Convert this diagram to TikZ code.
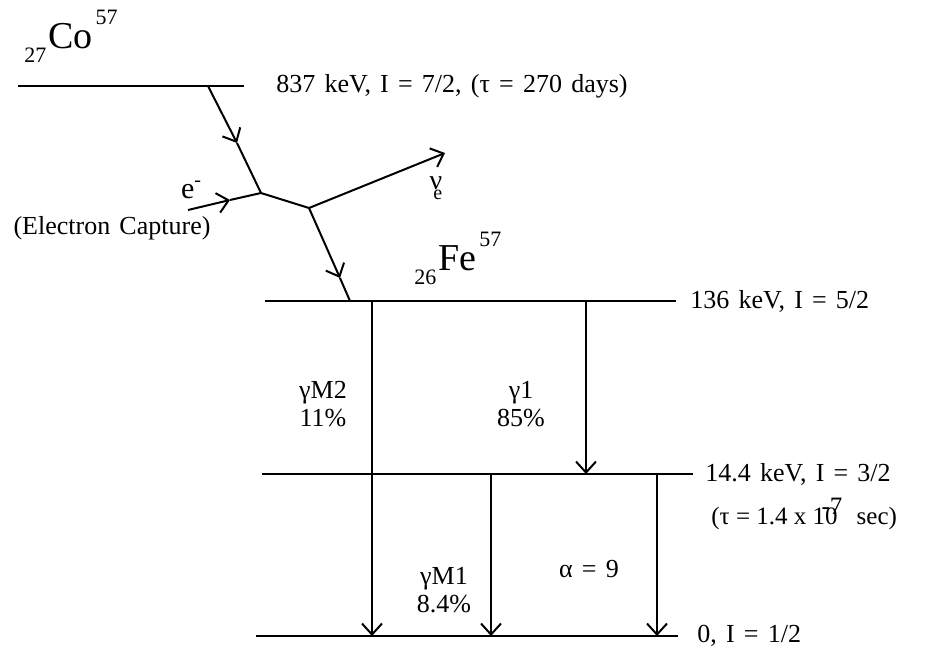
\documentclass[tikz,border=0pt]{standalone}
\usepackage{fontspec}
\setmainfont{Liberation Serif}
\usetikzlibrary{arrows.meta,positioning}

\newcommand\nucl[3]{\raisebox{-7pt}{\fontsize{11}{11}\selectfont #1}\hspace{1pt}#2\hspace{1.5pt}\raisebox{12pt}{\fontsize{11}{11}\selectfont #3}}
\newcommand\widesp{\spaceskip=4.6pt plus 1pt\relax}

\begin{document}
\begin{tikzpicture}[x=0.5pt,y=-0.5pt,
  level/.style={line width=1.4pt},
  edge/.style={line width=1pt},
  trans/.style={line width=1pt, -{Straight Barb[length=5.5pt,width=10pt,line width=1pt]}},
  lvl/.style={anchor=west, inner sep=0pt, font=\fontsize{13}{15}\selectfont\widesp},
  lbl/.style={align=center, inner sep=0pt, font=\fontsize{13}{14}\selectfont\widesp},
  iso/.style={anchor=base west, inner sep=0pt, font=\fontsize{19}{20}\selectfont}
]
\useasboundingbox (0,0) rectangle (943,654);

% Co57 level
\coordinate (co-l) at (18,86);
\coordinate (co-r) at (244,86);
\draw[level] (co-l) -- (co-r);
\node[iso] (co) at (24,48) {\nucl{27}{Co}{57}};
\node[lvl, right=16pt of co-r] (co-txt) {837 keV, I = 7/2, (τ = 270 days)};

% electron capture
\coordinate (d0) at (208,86);
\coordinate (m1) at (237,143);
\coordinate (v1) at (261,193);
\coordinate (v2) at (309,208);
\coordinate (m2) at (340,278);
\coordinate (d1) at (350,301);
\coordinate (e0) at (188,210);
\coordinate (em) at (230,200);
\coordinate (nu) at (445,153);
\draw[trans] (d0) -- (m1);
\draw[edge] (m1) -- (v1);
\draw[trans] (e0) -- (em);
\draw[edge] (em) -- (v1) -- (v2);
\draw[trans] (v2) -- (nu);
\draw[trans] (v2) -- (m2);
\draw[edge] (m2) -- (d1);
\node[lbl, font=\fontsize{15}{15}\selectfont] (el) at (191,190) {e\raisebox{6pt}{\fontsize{10}{10}\selectfont -}};
\node[lbl] (ec) at (112,228) {(Electron Capture)};
\node[lbl, font=\fontsize{14}{14}\selectfont] (nul) at (436,188) {ν\hspace{-4.5pt}\raisebox{-5pt}{\fontsize{10}{10}\selectfont e}};

% Fe57 levels
\node[iso] (fe) at (414,270) {\nucl{26}{Fe}{57}};
\coordinate (a-l) at (265,301);
\coordinate (a-r) at (676,301);
\coordinate (b-l) at (262,474);
\coordinate (b-r) at (693,474);
\coordinate (c-l) at (256,636);
\coordinate (c-r) at (678,636);
\draw[level] (a-l) -- (a-r);
\draw[level] (b-l) -- (b-r);
\draw[level] (c-l) -- (c-r);
\node[lvl, right=7pt of a-r] (a-txt) {136 keV, I = 5/2};
\node[lvl, right=6pt of b-r] (b-txt) {14.4 keV, I = 3/2};
\node[lvl, below right=12pt and 9pt of b-r, font=\fontsize{12.5}{14}\selectfont] (b-tau) {(τ = 1.4 x 10\raisebox{5pt}{\hspace{-8pt}-7}\hspace{4pt} sec)};
\node[lvl, right=9.5pt of c-r] (c-txt) {0, I = 1/2};

% transitions
\coordinate (m2-top) at (372,301);
\coordinate (m2-bot) at (372,636);
\coordinate (g1-top) at (586,301);
\coordinate (g1-bot) at (586,474);
\coordinate (m1-top) at (491,474);
\coordinate (m1-bot) at (491,636);
\coordinate (al-top) at (657,474);
\coordinate (al-bot) at (657,636);
\draw[trans] (m2-top) -- (m2-bot);
\draw[trans] (g1-top) -- (g1-bot);
\draw[trans] (m1-top) -- (m1-bot);
\draw[trans] (al-top) -- (al-bot);
\node[lbl] (m2-lbl) at (323,404) {γM2\\11\%};
\node[lbl] (g1-lbl) at (521,404) {γ1\\85\%};
\node[lbl] (m1-lbl) at (444,590) {γM1\\8.4\%};
\node[lbl] (al-lbl) at (589,569) {α = 9};
\end{tikzpicture}
\end{document}
